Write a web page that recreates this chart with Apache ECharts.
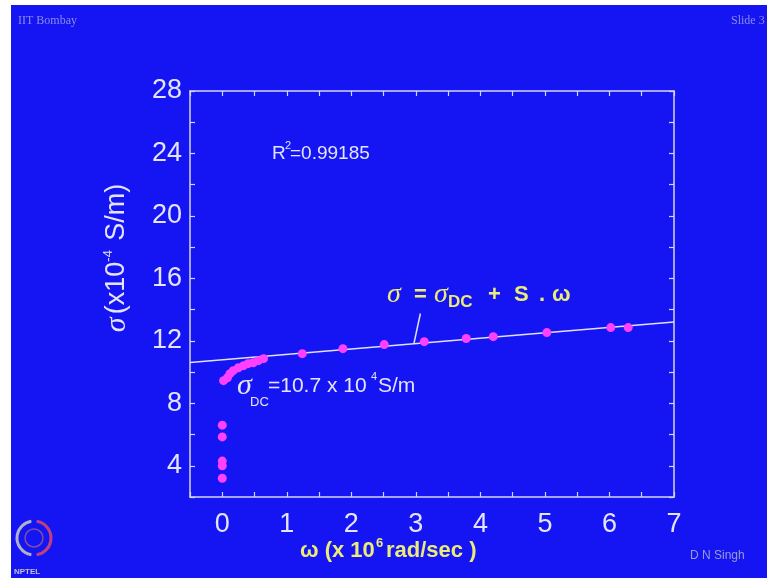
<!DOCTYPE html>
<html><head><meta charset="utf-8">
<script src="https://cdn.jsdelivr.net/npm/echarts@6/dist/echarts.min.js"></script>
<style>html,body{margin:0;padding:0;background:#fff;}#c{width:767px;height:578px;}</style>
</head><body><div id="c"></div>
<script>
// data
var xTickLabels = [0,1,2,3,4,5,6,7];
var yTickLabels = [4,8,12,16,20,24,28];
var omegaLow = [0,0,0,0,0];
var sigmaLow = [3.2,4.0,4.3,5.85,6.6];
var omegaCurve = [0.02,0.08,0.12,0.17,0.25,0.33,0.40,0.48,0.56,0.64];
var sigmaCurve = [9.45,9.64,9.9,10.09,10.28,10.41,10.54,10.6,10.73,10.86];
var omegaHigh = [1.24,1.87,2.51,3.13,3.78,4.20,5.03,6.02,6.29];
var sigmaHigh = [11.18,11.5,11.76,11.95,12.15,12.27,12.53,12.85,12.85];
var fitOmega = [-0.5,7];
var fitSigma = [10.61,13.2];
var pointerOmega = [2.97,3.07];
var pointerSigma = [11.83,13.75];

function zip(a,b){return a.map(function(v,i){return [v,b[i]];});}
var pts = zip(omegaLow,sigmaLow).concat(zip(omegaCurve,sigmaCurve)).concat(zip(omegaHigh,sigmaHigh));

var axisCol = '#d4d4fa';
var labCol = '#e4e4ff';
var yel = '#ecec78';
var sans = '"Liberation Sans", Arial, sans-serif';
var serif = '"Liberation Serif", "DejaVu Serif", serif';

var chart = echarts.init(document.getElementById('c'));
function axisCommon(){
  return {
    axisLine:{show:true,onZero:false,lineStyle:{color:axisCol,width:1.5}},
    axisTick:{show:true,inside:true,length:5,lineStyle:{color:axisCol,width:1.2}},
    splitLine:{show:false}
  };
}
var xb = Object.assign(axisCommon(),{type:'value',position:'bottom',min:-0.5,max:7,interval:0.5,
  axisLabel:{color:labCol,fontSize:27,fontFamily:sans,margin:14,
    formatter:function(v){return xTickLabels.indexOf(v)>=0?String(v):'';}}});
var xt = Object.assign(axisCommon(),{type:'value',position:'top',min:-0.5,max:7,interval:0.5,axisLabel:{show:false}});
var yl = Object.assign(axisCommon(),{type:'value',position:'left',min:2,max:28,interval:2,
  axisLabel:{color:labCol,fontSize:27,fontFamily:sans,margin:8,
    formatter:function(v){return yTickLabels.indexOf(v)>=0?String(v):'';}}});
var yr = Object.assign(axisCommon(),{type:'value',position:'right',min:2,max:28,interval:2,axisLabel:{show:false}});

function txt(x,y,text,size,color,family,extra){
  var s = {text:text,x:x,y:y,fontSize:size,fill:color,fontFamily:family||sans,textVerticalAlign:'middle'};
  if(extra){for(var k in extra){s[k]=extra[k];}}
  return {type:'text',z:100,style:s};
}

var graphics = [
  {type:'rect',z:-10,silent:true,shape:{x:11,y:5,width:756,height:573},style:{fill:'#1515f4'}},
  txt(18,21,'IIT Bombay',12,'#8c8ce8',serif),
  txt(731,21,'Slide 3',12,'#8c8ce8',serif),
  txt(690,556,'D N Singh',12,'#9a9ad8',sans),
  // NPTEL logo (simplified)
  {type:'arc',z:50,shape:{cx:34,cy:538,r:17,startAngle:Math.PI*0.55,endAngle:Math.PI*1.45},style:{stroke:'#b0b0c8',lineWidth:3,fill:null}},
  {type:'arc',z:50,shape:{cx:34,cy:538,r:17,startAngle:-Math.PI*0.45,endAngle:Math.PI*0.45},style:{stroke:'#c04080',lineWidth:3,fill:null}},
  {type:'circle',z:50,shape:{cx:34,cy:538,r:9},style:{stroke:'#8050a0',lineWidth:1.5,fill:null}},
  txt(14,572,'NPTEL',8,'#c0c0d0',sans,{fontWeight:'bold'}),
  // R^2
  txt(272,154,'R',19,labCol,sans),
  txt(285,146,'2',11,labCol,sans),
  txt(290,154,'=0.99185',19,labCol,sans,{letterSpacing:-0.5}),
  // sigma_DC annotation
  txt(237,386,'σ',30,labCol,serif,{fontStyle:'italic'}),
  txt(250,402,'DC',13,labCol,sans),
  txt(268,386,'=10.7 x 10',21,labCol,sans,{letterSpacing:-0.3}),
  txt(371,377,'4',11,labCol,sans),
  txt(378,386,'S/m',21,labCol,sans,{letterSpacing:-0.5}),
  // fit equation
  txt(387,295,'σ',28,yel,serif,{fontStyle:'italic'}),
  txt(414,295,'=',22,yel,sans,{fontWeight:'bold'}),
  txt(434,295,'σ',28,yel,serif,{fontStyle:'italic'}),
  txt(448,302,'DC',17,yel,sans,{fontWeight:'bold'}),
  txt(488,295,'+',22,yel,sans,{fontWeight:'bold'}),
  txt(514,295,'S',22,yel,sans,{fontWeight:'bold'}),
  txt(539,295,'.',22,yel,sans,{fontWeight:'bold'}),
  txt(552,295,'ω',22,yel,sans,{fontWeight:'bold'}),
  // x axis name
  txt(300,551,'ω (x 10',22,yel,sans,{fontWeight:'bold',letterSpacing:-0.5}),
  txt(376,543,'6',13,yel,sans,{fontWeight:'bold'}),
  txt(386,551,'rad/sec )',22,yel,sans,{fontWeight:'bold',letterSpacing:0}),
  // y axis name
  {type:'text',z:100,x:117,y:258,rotation:Math.PI/2,style:{
    text:'{s|σ} {t|(x10}{p|-4}{t| S/m)}',align:'center',verticalAlign:'middle',
    rich:{s:{fontSize:30,fontFamily:serif,fontStyle:'italic',fill:labCol},
          t:{fontSize:27,fontFamily:sans,fill:labCol},
          p:{fontSize:13,fontFamily:sans,fill:labCol,verticalAlign:'top',padding:[0,2,14,0]}}}}
];

chart.setOption({
  backgroundColor:'#ffffff',
  animation:false,
  grid:{left:190,right:93,top:91,bottom:81,containLabel:false},
  xAxis:[xb,xt],
  yAxis:[yl,yr],
  graphic:graphics,
  series:[
    {type:'line',data:zip(fitOmega,fitSigma),symbol:'none',lineStyle:{color:'#e0e0ff',width:1.5},z:2},
    {type:'line',data:zip(pointerOmega,pointerSigma),symbol:'none',lineStyle:{color:'#e0e0ff',width:1.5},z:2},
    {type:'scatter',data:pts,symbolSize:9,itemStyle:{color:'#ff40ff',opacity:1},z:3}
  ]
});
</script></body></html>
